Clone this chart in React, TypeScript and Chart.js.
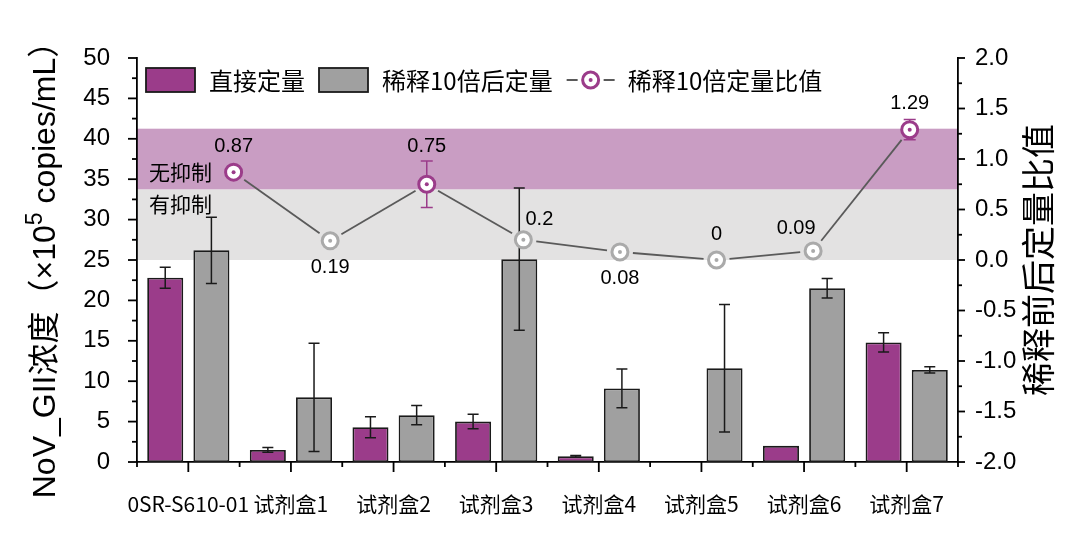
import { useEffect, useRef } from "react";
import { Chart, registerables } from "chart.js";

Chart.register(...registerables);

// groups on the x axis
const categories = [
  "0SR-S610-01",
  "试剂盒1",
  "试剂盒2",
  "试剂盒3",
  "试剂盒4",
  "试剂盒5",
  "试剂盒6",
  "试剂盒7"
];

const seriesNames = ["直接定量", "稀释10倍后定量", "稀释10倍定量比值"];

// NoV_GII concentration, x10^5 copies/mL
const directValues = [22.8, 1.5, 4.3, 5.0, 0.7, 0, 2.0, 14.8];
const directErrors = [1.3, 0.3, 1.3, 0.9, 0.1, 0, 0, 1.2];
const dilutedValues = [26.2, 8.0, 5.8, 25.1, 9.1, 11.6, 21.5, 11.4];
const dilutedErrors = [4.1, 6.7, 1.2, 8.8, 2.4, 7.9, 1.2, 0.4];

// ratio of the 10x diluted quantification, right axis
const ratioX = [1, 2, 3, 4, 5, 6, 7, 8];
const ratioValues = [0.87, 0.19, 0.75, 0.2, 0.08, 0, 0.09, 1.29];
const ratioErrors = [0.04, 0.04, 0.23, 0.04, 0.03, 0.02, 0.02, 0.1];

// shaded bands on the right axis
const bandLimits = [0, 0.7, 1.3];
const bandLabels = ["有抑制", "无抑制"];

const PURPLE = "#9b3c8a";
const BAR_GREY = "#a0a0a0";
const RING_GREY = "#aaaaaa";
const EDGE = "#1a1a1a";
const LINE = "#5a5a5a";
const BAND_COLORS = ["#e3e2e2", "#c99dc3"];
const LATIN = "'Liberation Sans', 'Noto Sans CJK SC', sans-serif";
const CJK = "'Noto Sans CJK SC', sans-serif";

const ratioColors = ratioValues.map((v) => (v >= bandLimits[1] ? PURPLE : RING_GREY));
const labelPlacement = ["top", "bottom", "top", "topRight", "bottom", "top", "topLeft", "top"];

function drawTicks(ctx: CanvasRenderingContext2D, scale: any, side: string, major: number, minor: number, category: boolean) {
  const majors: number[] = scale.ticks.map((t: any) => scale.getPixelForValue(t.value));
  const minors: number[] = [];
  for (let i = 0; i < majors.length - 1; i++) minors.push((majors[i] + majors[i + 1]) / 2);
  if (category) {
    const step = majors[1] - majors[0];
    minors.unshift(majors[0] - step / 2);
    minors.push(majors[majors.length - 1] + step / 2);
  }
  ctx.save();
  ctx.strokeStyle = "#000";
  ctx.lineWidth = 1.8;
  const mark = (p: number, len: number) => {
    ctx.beginPath();
    if (side === "left") {
      ctx.moveTo(scale.right - len, p);
      ctx.lineTo(scale.right, p);
    } else if (side === "right") {
      ctx.moveTo(scale.left, p);
      ctx.lineTo(scale.left + len, p);
    } else {
      ctx.moveTo(p, scale.top);
      ctx.lineTo(p, scale.top + len);
    }
    ctx.stroke();
  };
  majors.forEach((p) => mark(p, major));
  minors.forEach((p) => mark(p, minor));
  ctx.restore();
}

function errorBar(ctx: CanvasRenderingContext2D, x: number, y1: number, y2: number, cap: number) {
  ctx.beginPath();
  ctx.moveTo(x, y1);
  ctx.lineTo(x, y2);
  ctx.moveTo(x - cap, y1);
  ctx.lineTo(x + cap, y1);
  ctx.moveTo(x - cap, y2);
  ctx.lineTo(x + cap, y2);
  ctx.stroke();
}

function ringMarker(ctx: CanvasRenderingContext2D, x: number, y: number, color: string) {
  ctx.beginPath();
  ctx.arc(x, y, 8, 0, Math.PI * 2);
  ctx.fillStyle = "#fff";
  ctx.fill();
  ctx.lineWidth = 3;
  ctx.strokeStyle = color;
  ctx.stroke();
  ctx.beginPath();
  ctx.arc(x, y, 2, 0, Math.PI * 2);
  ctx.fillStyle = color;
  ctx.fill();
}

const decor = {
  id: "decor",
  beforeDraw(chart: any) {
    const { ctx, chartArea, scales } = chart;
    const yr = scales.yr;
    ctx.save();
    for (let i = 0; i < bandLabels.length; i++) {
      const top = yr.getPixelForValue(bandLimits[i + 1]);
      const bottom = yr.getPixelForValue(bandLimits[i]);
      ctx.fillStyle = BAND_COLORS[i];
      ctx.fillRect(chartArea.left, top, chartArea.right - chartArea.left, bottom - top);
    }
    const split = yr.getPixelForValue(bandLimits[1]);
    ctx.fillStyle = "#000";
    ctx.font = `21px ${CJK}`;
    ctx.textAlign = "left";
    ctx.textBaseline = "middle";
    ctx.fillText(bandLabels[1], chartArea.left + 12, split - 17);
    ctx.fillText(bandLabels[0], chartArea.left + 12, split + 15);
    ctx.restore();
  },
  afterDatasetDraw(chart: any, args: any) {
    const { ctx } = chart;
    const ds = chart.data.datasets[args.index];
    const y = chart.scales.y;
    ctx.save();
    ctx.strokeStyle = EDGE;
    ctx.lineWidth = 1.5;
    args.meta.data.forEach((bar: any, i: number) => {
      const e = ds.errors[i];
      if (!e) return;
      const v = ds.data[i];
      errorBar(ctx, bar.x, y.getPixelForValue(v + e), y.getPixelForValue(v - e), 5.5);
    });
    ctx.restore();
  },
  afterDatasetsDraw(chart: any) {
    // ratio series on its own linear x axis and the right y axis
    const { ctx } = chart;
    const xr = chart.scales.xr;
    const yr = chart.scales.yr;
    const pts = ratioX.map((x, i) => ({ x: xr.getPixelForValue(x), y: yr.getPixelForValue(ratioValues[i]) }));
    ctx.save();
    ctx.strokeStyle = LINE;
    ctx.lineWidth = 1.8;
    const gap = 13;
    for (let i = 0; i < pts.length - 1; i++) {
      const a = pts[i];
      const b = pts[i + 1];
      const dx = b.x - a.x;
      const dy = b.y - a.y;
      const len = Math.hypot(dx, dy);
      ctx.beginPath();
      ctx.moveTo(a.x + (dx / len) * gap, a.y + (dy / len) * gap);
      ctx.lineTo(b.x - (dx / len) * gap, b.y - (dy / len) * gap);
      ctx.stroke();
    }
    pts.forEach((p, i) => {
      ctx.lineWidth = 1.5;
      ctx.strokeStyle = ratioColors[i];
      errorBar(ctx, p.x, yr.getPixelForValue(ratioValues[i] + ratioErrors[i]), yr.getPixelForValue(ratioValues[i] - ratioErrors[i]), 6);
      ringMarker(ctx, p.x, p.y, ratioColors[i]);
    });
    ctx.fillStyle = "#000";
    ctx.font = `20px ${LATIN}`;
    ctx.textAlign = "center";
    ctx.textBaseline = "middle";
    pts.forEach((p, i) => {
      const errTop = yr.getPixelForValue(ratioValues[i] + ratioErrors[i]);
      let lx = p.x;
      let ly = Math.min(p.y - 26, errTop - 15);
      const place = labelPlacement[i];
      if (place === "bottom") ly = p.y + 27;
      if (place === "topRight") { lx = p.x + 16; ly = p.y - 20; }
      if (place === "topLeft") { lx = p.x - 17; ly = p.y - 22; }
      ctx.fillText(String(ratioValues[i]), lx, ly);
    });
    ctx.restore();
  },
  afterDraw(chart: any) {
    const { ctx, scales, chartArea } = chart;
    drawTicks(ctx, scales.y, "left", 9, 5, false);
    drawTicks(ctx, scales.yr, "right", 7, 4, false);
    drawTicks(ctx, scales.x, "bottom", 10, 5, true);

    // legend inside the plot
    ctx.save();
    const ly = 80;
    let x = chartArea.left + 9;
    ctx.textBaseline = "middle";
    ctx.textAlign = "left";
    ctx.font = `24px ${CJK}`;
    const boxes = [PURPLE, BAR_GREY];
    for (let i = 0; i < 2; i++) {
      ctx.fillStyle = boxes[i];
      ctx.fillRect(x, ly - 12, 49, 24);
      ctx.strokeStyle = EDGE;
      ctx.lineWidth = 1.8;
      ctx.strokeRect(x, ly - 12, 49, 24);
      x += 49 + 14;
      ctx.fillStyle = "#000";
      ctx.fillText(seriesNames[i], x, ly + 1);
      x += ctx.measureText(seriesNames[i]).width + 14;
    }
    ctx.strokeStyle = LINE;
    ctx.lineWidth = 1.8;
    ctx.beginPath();
    ctx.moveTo(x, ly);
    ctx.lineTo(x + 11, ly);
    ctx.moveTo(x + 37, ly);
    ctx.lineTo(x + 48, ly);
    ctx.stroke();
    ringMarker(ctx, x + 24, ly, PURPLE);
    x += 48 + 13;
    ctx.fillStyle = "#000";
    ctx.fillText(seriesNames[2], x, ly + 1);
    ctx.restore();

    // left axis title with superscript
    ctx.save();
    ctx.translate(55, 262);
    ctx.rotate(-Math.PI / 2);
    ctx.fillStyle = "#000";
    ctx.textBaseline = "alphabetic";
    ctx.textAlign = "left";
    const parts = [
      { text: "NoV_GII浓度（×10", size: 32, rise: 0 },
      { text: "5", size: 23, rise: 13 },
      { text: " copies/mL）", size: 32, rise: 0 }
    ];
    const widths = parts.map((p) => {
      ctx.font = `${p.size}px ${LATIN}`;
      return ctx.measureText(p.text).width;
    });
    let tx = -widths.reduce((a, b) => a + b, 0) / 2;
    parts.forEach((p, i) => {
      ctx.font = `${p.size}px ${LATIN}`;
      ctx.fillText(p.text, tx, -p.rise);
      tx += widths[i];
    });
    ctx.restore();

    // right axis title, reading bottom to top
    ctx.save();
    ctx.translate(1038, 260);
    ctx.rotate(-Math.PI / 2);
    ctx.fillStyle = "#000";
    ctx.font = `34px ${CJK}`;
    ctx.textAlign = "center";
    ctx.textBaseline = "middle";
    ctx.fillText("稀释前后定量比值", 0, 0);
    ctx.restore();
  }
};

export default function App() {
  const canvasRef = useRef<HTMLCanvasElement | null>(null);

  useEffect(() => {
    if (!canvasRef.current) return;

    const chart = new Chart(canvasRef.current, {
      type: "bar",
      data: {
        labels: categories,
        datasets: [
          {
            label: seriesNames[0],
            data: directValues,
            errors: directErrors,
            backgroundColor: PURPLE,
            borderColor: EDGE,
            borderWidth: 1.8,
            borderSkipped: false,
            categoryPercentage: 0.9,
            barPercentage: 0.78
          },
          {
            label: seriesNames[1],
            data: dilutedValues,
            errors: dilutedErrors,
            backgroundColor: BAR_GREY,
            borderColor: EDGE,
            borderWidth: 1.8,
            borderSkipped: false,
            categoryPercentage: 0.9,
            barPercentage: 0.78
          }
        ] as any
      },
      options: {
        animation: false,
        responsive: true,
        maintainAspectRatio: false,
        layout: { padding: { top: 58, left: 0, right: 0, bottom: 0 } },
        plugins: {
          legend: { display: false },
          tooltip: { enabled: false }
        },
        scales: {
          x: {
            type: "category",
            grid: { display: false },
            border: { display: true, color: "#000", width: 1.8 },
            ticks: {
              color: "#000",
              font: { family: CJK, size: 21 },
              padding: 21,
              autoSkip: false,
              maxRotation: 0
            },
            afterFit: (s: any) => {
              s.height = 81;
            }
          },
          xr: {
            type: "linear",
            display: false,
            offset: false,
            min: 0,
            max: 8.5
          },
          y: {
            position: "left",
            min: 0,
            max: 50,
            grid: { display: false },
            border: { display: true, color: "#000", width: 1.8 },
            ticks: {
              stepSize: 5,
              color: "#000",
              font: { family: LATIN, size: 24 },
              padding: 19
            },
            afterFit: (s: any) => {
              s.width = 137;
            }
          },
          yr: {
            position: "right",
            min: -2,
            max: 2,
            grid: { display: false },
            border: { display: true, color: "#000", width: 1.8 },
            ticks: {
              stepSize: 0.5,
              color: "#000",
              font: { family: LATIN, size: 24 },
              padding: 9,
              callback: (v: any) => Number(v).toFixed(1)
            },
            afterFit: (s: any) => {
              s.width = 122;
            }
          }
        }
      } as any,
      plugins: [decor]
    });

    return () => chart.destroy();
  }, []);

  return (
    <div style={{ position: "absolute", left: 0, top: 0, width: 1080, height: 543, background: "#fff" }}>
      <canvas ref={canvasRef} />
    </div>
  );
}
